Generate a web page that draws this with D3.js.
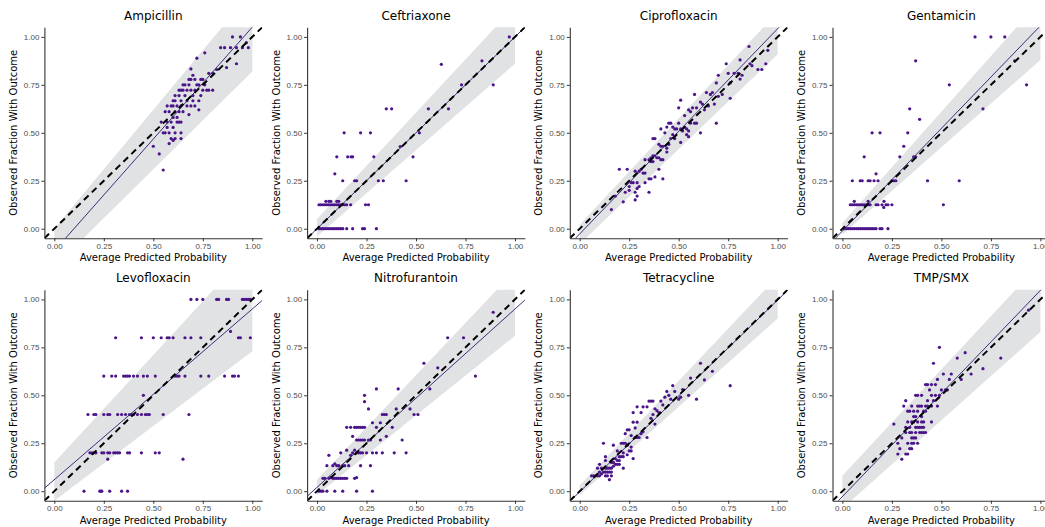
<!DOCTYPE html>
<html lang="en">
<head>
<meta charset="utf-8">
<title>Calibration by Antibiotic</title>
<script src="https://d3js.org/d3.v7.min.js"></script>
<style>
  body { margin: 0; background: #fff; }
  svg { font-family: "DejaVu Sans", sans-serif; }
  .tick text { fill: #4d4d4d; font-size: 8px; }
  .tick line, .domain { stroke: #333; }
</style>
</head>
<body>
<svg width="1045" height="527"></svg>
<script>
// panel order, left to right then top to bottom
var drugs = ['Ampicillin', 'Ceftriaxone', 'Ciprofloxacin', 'Gentamicin',
             'Levofloxacin', 'Nitrofurantoin', 'Tetracycline', 'TMP/SMX'];
var tickVals = [0, 0.25, 0.5, 0.75, 1];

// fitted line (intercept, slope) and band edges at x = 0 and x = 1
var fitIntercept = [-0.116, 0.0, -0.027, -0.012, 0.06, 0.02, -0.003, -0.028];
var fitSlope     = [1.167, 1.0, 1.07, 1.07, 0.89, 0.93, 1.0, 1.075];
var bandLow0  = [-0.20, -0.04, -0.08, -0.03, -0.05, -0.02, -0.02, -0.09];
var bandLow1  = [0.82, 0.86, 0.91, 0.88, 0.73, 0.81, 0.90, 0.83];
var bandHigh0 = [0.00, 0.05, 0.02, 0.03, 0.15, 0.06, 0.03, 0.08];
var bandHigh1 = [1.24, 1.16, 1.13, 1.19, 1.27, 1.15, 1.12, 1.19];

var ampicillin = [[0.90,1.00],[0.94,1.00],[0.97,0.97],[0.84,0.944],[0.86,0.944],[0.89,0.944],[0.92,0.944],[0.95,0.944],[0.98,0.944],
  [0.92,0.86],[0.87,0.84],[0.76,0.917],[0.72,0.889],[0.82,0.83],[0.80,0.81],[0.78,0.81],[0.69,0.833],[0.70,0.80],
  [0.68,0.778],[0.69,0.778],[0.71,0.778],[0.74,0.778],[0.75,0.778],[0.65,0.75],[0.66,0.75],[0.68,0.75],[0.72,0.75],[0.73,0.75],[0.76,0.75],
  [0.63,0.722],[0.64,0.722],[0.65,0.722],[0.67,0.722],[0.69,0.722],[0.71,0.722],[0.75,0.722],[0.77,0.722],[0.78,0.722],[0.80,0.722],
  [0.61,0.694],[0.63,0.694],[0.66,0.694],[0.70,0.694],[0.74,0.694],
  [0.60,0.667],[0.61,0.667],[0.64,0.667],[0.67,0.667],[0.70,0.667],[0.73,0.667],
  [0.57,0.64],[0.59,0.64],[0.60,0.64],[0.62,0.64],[0.64,0.64],[0.67,0.64],[0.69,0.64],[0.71,0.64],
  [0.56,0.61],[0.58,0.61],[0.61,0.61],[0.63,0.61],[0.65,0.61],[0.73,0.62],
  [0.60,0.58],[0.62,0.58],[0.68,0.595],
  [0.54,0.556],[0.57,0.556],[0.59,0.556],[0.62,0.556],[0.63,0.556],[0.64,0.556],
  [0.57,0.528],[0.60,0.528],
  [0.55,0.50],[0.56,0.50],[0.58,0.50],[0.61,0.50],[0.64,0.50],
  [0.59,0.47],[0.61,0.47],[0.64,0.47],[0.60,0.46],[0.58,0.444],
  [0.50,0.43],[0.53,0.39],[0.55,0.306]];

var ceftriaxone = [[0.01,0],[0.02,0],[0.03,0],[0.04,0],[0.05,0],[0.06,0],[0.07,0],[0.08,0],[0.09,0],[0.10,0],[0.11,0],[0.12,0],[0.13,0],[0.15,0],
  [0.18,0],[0.23,0],[0.24,0],[0.30,0],
  [0.01,0.125],[0.02,0.125],[0.03,0.125],[0.04,0.125],[0.05,0.125],[0.06,0.125],[0.07,0.125],[0.08,0.125],[0.09,0.125],[0.10,0.125],
  [0.11,0.125],[0.12,0.125],[0.13,0.125],[0.14,0.125],[0.15,0.125],[0.17,0.125],[0.245,0.125],[0.26,0.125],
  [0.045,0.143],[0.06,0.143],[0.07,0.143],[0.10,0.143],[0.11,0.143],
  [0.13,0.25],[0.19,0.25],[0.20,0.25],[0.31,0.25],[0.335,0.25],[0.45,0.25],
  [0.09,0.286],
  [0.10,0.375],[0.155,0.375],[0.172,0.375],[0.18,0.375],[0.287,0.375],[0.485,0.375],
  [0.42,0.428],
  [0.137,0.5],[0.22,0.5],[0.27,0.5],[0.517,0.5],
  [0.35,0.625],[0.377,0.625],[0.5625,0.625],[0.664,0.625],
  [0.73,0.75],[0.89,0.75],[0.628,0.857],[0.833,0.875],[0.971,1.0]];

var ciprofloxacin = [[0.855,0.95],[0.95,0.93],[0.81,0.88],[0.74,0.86],[0.94,0.86],[0.86,0.86],[0.87,0.85],[0.90,0.83],[0.92,0.83],
  [0.78,0.81],[0.75,0.81],[0.70,0.80],[0.80,0.81],[0.82,0.80],[0.81,0.78],[0.69,0.76],[0.76,0.76],[0.64,0.71],[0.66,0.70],
  [0.67,0.71],[0.72,0.70],[0.70,0.69],[0.76,0.68],[0.58,0.70],[0.61,0.66],[0.62,0.65],[0.51,0.67],[0.50,0.63],[0.55,0.62],
  [0.56,0.61],[0.57,0.63],[0.59,0.63],[0.53,0.59],[0.63,0.62],[0.65,0.64],[0.68,0.65],
  [0.45,0.55],[0.46,0.55],[0.50,0.55],[0.47,0.53],[0.48,0.52],[0.49,0.52],[0.51,0.52],[0.53,0.53],[0.54,0.52],[0.44,0.53],
  [0.41,0.52],[0.52,0.51],[0.55,0.51],[0.56,0.55],[0.58,0.55],[0.59,0.55],[0.69,0.55],[0.43,0.50],[0.47,0.49],[0.54,0.49],
  [0.55,0.48],[0.61,0.50],[0.51,0.45],[0.37,0.47],[0.38,0.47],[0.45,0.44],[0.46,0.47],[0.48,0.47],[0.40,0.44],[0.41,0.43],
  [0.42,0.43],[0.44,0.42],[0.44,0.40],[0.37,0.38],[0.38,0.38],[0.36,0.37],[0.39,0.37],[0.40,0.37],[0.41,0.36],[0.42,0.36],
  [0.33,0.36],[0.35,0.36],[0.36,0.35],[0.37,0.35],[0.31,0.31],[0.32,0.29],[0.33,0.29],[0.30,0.30],[0.28,0.30],[0.40,0.31],
  [0.38,0.27],[0.42,0.26],[0.35,0.26],[0.36,0.26],[0.33,0.24],[0.29,0.24],[0.27,0.24],[0.26,0.24],[0.25,0.22],[0.29,0.21],
  [0.30,0.22],[0.28,0.19],[0.23,0.19],[0.25,0.20],[0.35,0.19],[0.18,0.17],[0.29,0.17],[0.20,0.31],[0.24,0.31],[0.22,0.14],
  [0.28,0.15],[0.16,0.10]];

var gentamicin = [[0.01,0],[0.02,0],[0.03,0],[0.04,0],[0.05,0],[0.06,0],[0.07,0],[0.08,0],[0.09,0],[0.10,0],[0.11,0],[0.12,0],
  [0.13,0],[0.14,0],[0.15,0],[0.16,0],[0.17,0],[0.19,0],[0.20,0],[0.23,0],
  [0.209,0.111],
  [0.04,0.125],[0.05,0.125],[0.06,0.125],[0.07,0.125],[0.08,0.125],[0.09,0.125],[0.10,0.125],[0.11,0.125],[0.12,0.125],
  [0.13,0.125],[0.14,0.125],[0.17,0.125],[0.18,0.125],[0.20,0.125],[0.22,0.125],[0.23,0.125],[0.25,0.125],[0.51,0.125],
  [0.06,0.143],[0.13,0.143],[0.21,0.143],
  [0.05,0.25],[0.09,0.25],[0.10,0.25],[0.13,0.25],[0.14,0.25],[0.16,0.25],[0.18,0.25],[0.25,0.25],[0.26,0.25],[0.27,0.25],
  [0.43,0.25],[0.59,0.25],
  [0.17,0.286],[0.11,0.375],[0.29,0.375],[0.36,0.375],[0.37,0.375],[0.31,0.43],
  [0.15,0.5],[0.19,0.5],[0.33,0.5],[0.39,0.57],[0.34,0.625],[0.71,0.625],
  [0.54,0.75],[0.93,0.75],[0.37,0.875],[0.87,0.875],[0.67,1.0],[0.75,1.0],[0.82,1.0]];

var levofloxacin = [[0.69,1],[0.72,1],[0.75,1],[0.82,1],[0.83,1],[0.87,1],[0.88,1],[0.95,1],[0.96,1],[0.97,1],[0.98,1],[0.99,1],
  [0.89,0.833],
  [0.31,0.8],[0.44,0.8],[0.50,0.8],[0.54,0.8],[0.57,0.8],[0.58,0.8],[0.60,0.8],[0.66,0.8],[0.69,0.8],[0.74,0.8],[0.93,0.8],
  [0.94,0.8],[0.99,0.8],
  [0.25,0.6],[0.29,0.6],[0.31,0.6],[0.35,0.6],[0.36,0.6],[0.37,0.6],[0.38,0.6],[0.40,0.6],[0.42,0.6],[0.45,0.6],[0.47,0.6],
  [0.51,0.6],[0.61,0.6],[0.62,0.6],[0.63,0.6],[0.66,0.6],[0.74,0.6],[0.78,0.6],[0.86,0.6],[0.90,0.6],[0.91,0.6],[0.93,0.6],
  [0.45,0.5],
  [0.17,0.4],[0.20,0.4],[0.21,0.4],[0.25,0.4],[0.27,0.4],[0.28,0.4],[0.32,0.4],[0.34,0.4],[0.36,0.4],[0.38,0.4],[0.39,0.4],
  [0.40,0.4],[0.42,0.4],[0.44,0.4],[0.46,0.4],[0.47,0.4],[0.48,0.4],[0.55,0.4],[0.68,0.4],
  [0.18,0.2],[0.19,0.2],[0.20,0.2],[0.21,0.2],[0.24,0.2],[0.25,0.2],[0.27,0.2],[0.28,0.2],[0.30,0.2],[0.31,0.2],[0.32,0.2],
  [0.33,0.2],[0.37,0.2],[0.38,0.2],[0.44,0.2],[0.51,0.2],[0.53,0.2],
  [0.27,0.167],[0.65,0.167],
  [0.15,0],[0.23,0],[0.235,0],[0.24,0],[0.28,0],[0.34,0],[0.37,0]];

var nitrofurantoin = [[0.89,0.933],[0.66,0.80],[0.74,0.80],[0.80,0.60],[0.54,0.667],[0.61,0.643],[0.57,0.533],[0.30,0.533],
  [0.41,0.533],[0.24,0.50],[0.24,0.467],[0.26,0.429],[0.40,0.429],[0.47,0.429],[0.49,0.40],[0.51,0.40],[0.33,0.40],[0.34,0.40],
  [0.35,0.40],[0.28,0.357],[0.32,0.357],[0.30,0.333],[0.15,0.333],[0.17,0.333],[0.19,0.333],[0.20,0.333],[0.21,0.333],
  [0.22,0.333],[0.23,0.333],[0.24,0.333],[0.38,0.333],[0.18,0.286],[0.35,0.286],[0.20,0.267],[0.21,0.267],[0.22,0.267],
  [0.23,0.267],[0.24,0.267],[0.26,0.267],[0.27,0.267],[0.32,0.267],[0.43,0.267],[0.15,0.214],[0.19,0.214],[0.21,0.2],
  [0.20,0.2],[0.18,0.2],[0.22,0.2],[0.23,0.2],[0.25,0.2],[0.28,0.2],[0.30,0.2],[0.33,0.2],[0.39,0.2],[0.45,0.2],[0.12,0.2],
  [0.06,0.187],[0.17,0.187],[0.05,0.133],[0.08,0.133],[0.09,0.143],[0.10,0.133],[0.11,0.133],[0.13,0.133],[0.14,0.133],
  [0.16,0.133],[0.27,0.133],[0.22,0.133],[0.04,0.067],[0.06,0.067],[0.08,0.067],[0.09,0.067],[0.10,0.067],[0.11,0.067],
  [0.12,0.067],[0.13,0.067],[0.14,0.067],[0.15,0.067],[0.19,0.067],[0.20,0.071],[0.03,0.067],[0.07,0.071],
  [0.01,0],[0.02,0],[0.03,0],[0.05,0],[0.09,0],[0.13,0],[0.20,0],[0.28,0]];

var tetracycline = [[0.61,0.667],[0.67,0.625],[0.63,0.58],[0.56,0.59],[0.76,0.55],[0.59,0.48],[0.55,0.50],[0.52,0.53],[0.50,0.48],
  [0.51,0.49],[0.48,0.52],[0.47,0.55],[0.45,0.50],[0.46,0.48],[0.44,0.52],[0.43,0.49],[0.41,0.47],[0.35,0.47],[0.36,0.47],
  [0.37,0.47],[0.32,0.44],[0.29,0.44],[0.38,0.43],[0.40,0.41],[0.42,0.45],[0.39,0.42],[0.34,0.44],[0.31,0.41],[0.27,0.41],
  [0.37,0.40],[0.36,0.38],[0.38,0.35],[0.29,0.36],[0.27,0.36],[0.28,0.33],[0.32,0.31],[0.24,0.32],[0.25,0.32],[0.23,0.30],
  [0.26,0.29],[0.28,0.28],[0.29,0.28],[0.30,0.28],[0.34,0.28],[0.31,0.30],[0.22,0.25],[0.23,0.25],[0.21,0.25],[0.24,0.24],
  [0.12,0.25],[0.26,0.23],[0.25,0.21],[0.17,0.24],[0.19,0.21],[0.26,0.21],[0.22,0.20],[0.24,0.19],[0.27,0.17],[0.20,0.18],
  [0.21,0.18],[0.22,0.18],[0.18,0.17],[0.19,0.16],[0.20,0.16],[0.16,0.15],[0.17,0.15],[0.18,0.14],[0.19,0.14],[0.20,0.14],
  [0.17,0.13],[0.13,0.18],[0.13,0.16],[0.10,0.14],[0.11,0.12],[0.13,0.12],[0.14,0.12],[0.15,0.12],[0.16,0.12],[0.22,0.12],
  [0.09,0.12],[0.10,0.10],[0.12,0.10],[0.13,0.10],[0.14,0.10],[0.15,0.10],[0.16,0.10],[0.11,0.09],[0.13,0.08],[0.14,0.08],
  [0.16,0.08],[0.06,0.08],[0.07,0.08],[0.08,0.08],[0.09,0.08],[0.10,0.08],[0.15,0.06]];

var tmpsmx = [[0.94,0.944],[0.49,0.75],[0.58,0.694],[0.62,0.722],[0.80,0.694],[0.71,0.639],[0.46,0.667],[0.65,0.611],[0.60,0.583],
  [0.55,0.611],[0.54,0.583],[0.51,0.611],[0.48,0.583],[0.42,0.556],[0.43,0.556],[0.45,0.556],[0.47,0.556],[0.50,0.528],
  [0.52,0.528],[0.53,0.528],[0.49,0.5],[0.44,0.528],[0.38,0.50],[0.37,0.50],[0.40,0.50],[0.45,0.50],[0.47,0.50],[0.43,0.472],
  [0.46,0.472],[0.32,0.472],[0.31,0.444],[0.35,0.444],[0.38,0.444],[0.39,0.444],[0.40,0.444],[0.42,0.444],[0.43,0.444],
  [0.45,0.444],[0.48,0.444],[0.33,0.417],[0.34,0.417],[0.36,0.417],[0.38,0.417],[0.41,0.417],[0.42,0.417],[0.37,0.389],
  [0.36,0.389],[0.40,0.389],[0.33,0.361],[0.35,0.361],[0.36,0.361],[0.38,0.361],[0.40,0.361],[0.41,0.361],[0.45,0.361],
  [0.26,0.35],[0.32,0.333],[0.34,0.333],[0.37,0.333],[0.38,0.333],[0.39,0.333],[0.40,0.333],[0.41,0.333],[0.32,0.306],
  [0.34,0.306],[0.35,0.306],[0.37,0.306],[0.39,0.306],[0.40,0.306],[0.41,0.306],[0.42,0.306],[0.35,0.278],[0.36,0.278],
  [0.37,0.278],[0.30,0.278],[0.28,0.25],[0.33,0.25],[0.35,0.25],[0.38,0.25],[0.29,0.222],[0.34,0.222],[0.35,0.222],
  [0.36,0.25],[0.28,0.194],[0.32,0.194],[0.33,0.194],[0.30,0.167]];

var points = [ampicillin, ceftriaxone, ciprofloxacin, gentamicin, levofloxacin, nitrofurantoin, tetracycline, tmpsmx];

var svg = d3.select('svg');
var plotW = 217.8, plotH = 211;
var colStep = 262.7, rowStep = 262.5;

drugs.forEach(function(name, i) {
  var col = i % 4, row = Math.floor(i / 4);
  var left = 44.4 + col * colStep, top = 27.3 + row * rowStep;

  var x = d3.scaleLinear().domain([-0.05, 1.05]).range([0, plotW]);
  var y = d3.scaleLinear().domain([-0.05, 1.05]).range([plotH, 0]);

  var g = svg.append('g').attr('transform', 'translate(' + left + ',' + top + ')');

  var clipId = 'clip' + i;
  g.append('clipPath').attr('id', clipId)
    .append('rect').attr('width', plotW).attr('height', plotH);
  var plot = g.append('g').attr('clip-path', 'url(#' + clipId + ')');

  // confidence band
  var band = d3.area()
    .x(function(d) { return x(d); })
    .y0(function(d) { return y(d === 0 ? bandLow0[i] : bandLow1[i]); })
    .y1(function(d) { return y(d === 0 ? bandHigh0[i] : bandHigh1[i]); });
  plot.append('path').datum([0, 1])
    .attr('d', band)
    .attr('fill', '#e0e2e3');

  plot.selectAll('circle').data(points[i]).enter().append('circle')
    .attr('cx', function(d) { return x(d[0]); })
    .attr('cy', function(d) { return y(d[1]); })
    .attr('r', 1.6)
    .attr('fill', '#4b148a');

  // fitted line
  var ends = [-0.05, 1.05];
  plot.append('line')
    .attr('x1', x(ends[0])).attr('y1', y(fitIntercept[i] + fitSlope[i] * ends[0]))
    .attr('x2', x(ends[1])).attr('y2', y(fitIntercept[i] + fitSlope[i] * ends[1]))
    .attr('stroke', '#3b2f7a').attr('stroke-width', 1);

  // perfect calibration
  plot.append('line')
    .attr('x1', x(ends[0])).attr('y1', y(ends[0]))
    .attr('x2', x(ends[1])).attr('y2', y(ends[1]))
    .attr('stroke', '#000').attr('stroke-width', 2)
    .attr('stroke-dasharray', '6.5,4.5');

  g.append('g')
    .attr('transform', 'translate(0,' + plotH + ')')
    .call(d3.axisBottom(x).tickValues(tickVals).tickFormat(d3.format('.2f'))
      .tickSize(3).tickSizeOuter(0).tickPadding(2));
  g.append('g')
    .call(d3.axisLeft(y).tickValues(tickVals).tickFormat(d3.format('.2f'))
      .tickSize(3).tickSizeOuter(0).tickPadding(2));
  g.selectAll('.domain').attr('stroke-width', 1.1);

  g.append('text')
    .attr('x', plotW / 2).attr('y', -7.5)
    .attr('text-anchor', 'middle')
    .style('font-size', '12px')
    .text(name);

  g.append('text')
    .attr('x', plotW / 2).attr('y', plotH + 23)
    .attr('text-anchor', 'middle')
    .style('font-size', '10px')
    .text('Average Predicted Probability');

  g.append('text')
    .attr('transform', 'translate(-27.5,' + (plotH / 2) + ') rotate(-90)')
    .attr('text-anchor', 'middle')
    .style('font-size', '10px')
    .text('Observed Fraction With Outcome');
});
</script>
</body>
</html>
